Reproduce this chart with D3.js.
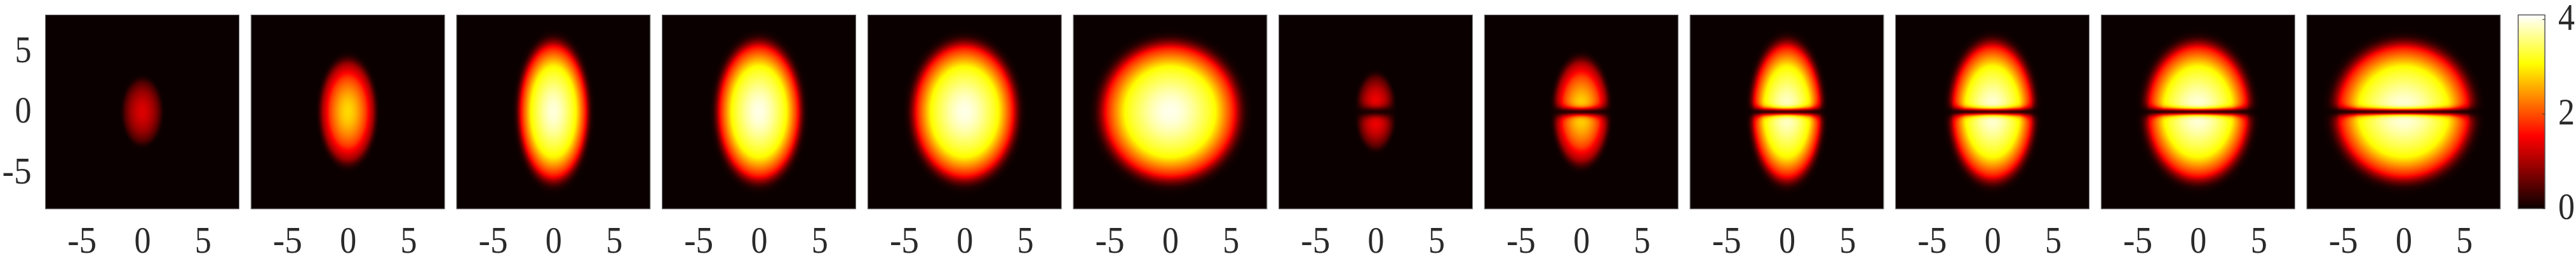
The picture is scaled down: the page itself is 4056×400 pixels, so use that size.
<!DOCTYPE html>
<html>
<head>
<meta charset="utf-8">
<script src="https://cdn.jsdelivr.net/npm/d3@7"></script>
<style>
	html, body { margin: 0; padding: 0; background: #fff; }
	svg { display: block; }
	text { font-family: "Liberation Serif", serif; fill: #2a2a2a; }
</style>
</head>
<body>
<svg id="chart" width="4056" height="400"></svg>
<script>
// per panel readings: peak density, outer half width and
// half height of the blob (axis units), width of the dark line (0 = no line),
// and how much of the soft edge profile the panel uses.
// The full 2D fields are not available, so each panel is rebuilt from these
// readings and the edge profiles below; it is a fit, not the source data.
var peaks       = [1.32, 2.85, 3.95, 4.00, 4.00, 4.02, 1.70, 2.95, 3.95, 4.00, 4.02, 4.02];
var halfWidths  = [1.75, 2.50, 3.15, 3.80, 4.70, 6.25, 1.75, 2.50, 3.20, 3.80, 4.75, 6.25];
var halfHeights = [2.95, 4.70, 6.30, 6.30, 6.25, 6.25, 3.35, 4.80, 6.30, 6.30, 6.25, 6.25];
var lineWidths  = [0, 0, 0, 0, 0, 0, 0.45, 0.32, 0.27, 0.26, 0.25, 0.24];
var softness    = [0.5, 0.4, 0, 0, 0, 0, 0.5, 0.4, 0, 0, 0, 0];

// density / peak against normalised distance from the blob centre
var profileR = [0, 0.1, 0.2, 0.3, 0.4, 0.5, 0.6, 0.7, 0.8, 0.85, 0.9, 0.95, 1, 1.05, 1.1];
var hardN    = [1, 0.99, 0.96, 0.92, 0.87, 0.82, 0.76, 0.62, 0.48, 0.40, 0.24, 0.12, 0.04, 0.01, 0];
var softN    = [1, 0.98, 0.93, 0.85, 0.75, 0.63, 0.50, 0.37, 0.24, 0.17, 0.11, 0.06, 0.02, 0, 0];

var axisTicks = [-5, 0, 5];
var colorbarTicks = [0, 2, 4];
var hotStops = ["#0b0000", "#ff0000", "#ffff00", "#ffffff"];

var panelSize = 305, panelTop = 23.5, panelHeight = 305.5;
var lineFloor = 0.08;

var svg = d3.select("#chart");

var panelX = d3.scaleLinear().domain([0, 11]).range([71.5, 3632]);
var x = d3.scaleLinear().domain([-8, 8]).range([0, panelSize]);
var y = d3.scaleLinear().domain([-8, 8]).range([panelHeight, 0]);
var hardProfile = d3.scaleLinear().domain(profileR).range(hardN).clamp(true);
var softProfile = d3.scaleLinear().domain(profileR).range(softN).clamp(true);

var cmax = 4.09;
var color = d3.scaleLinear()
	.domain([0, cmax * 0.375, cmax * 0.75, cmax])
	.range(hotStops)
	.clamp(true);

function density(i, px, py) {
	var dx = px / halfWidths[i], dy = py / halfHeights[i];
	var r = Math.sqrt(dx * dx + dy * dy);
	var base = softness[i] * softProfile(r) + (1 - softness[i]) * hardProfile(r);
	var n = peaks[i] * base;
	if (lineWidths[i] > 0) {
		// the line gets wider where the density is low
		var w = lineWidths[i] / Math.sqrt(Math.max(base, 0.25));
		var t = Math.tanh(py / w);
		n = n * (lineFloor + (1 - lineFloor) * t * t);
	}
	return n;
}

function fieldImage(i) {
	var w = Math.round(panelSize), h = Math.round(panelHeight);
	var canvas = document.createElement("canvas");
	canvas.width = w;
	canvas.height = h;
	var ctx = canvas.getContext("2d");
	for (var row = 0; row < h; row++) {
		for (var col = 0; col < w; col++) {
			ctx.fillStyle = color(density(i, x.invert(col + 0.5), y.invert(row + 0.5)));
			ctx.fillRect(col, row, 1, 1);
		}
	}
	return canvas.toDataURL();
}

// computer modern digits are narrower than the serif we have
function styleLabels(sel) {
	sel.attr("font-size", 59)
		.attr("fill", null)
		.attr("lengthAdjust", "spacingAndGlyphs")
		.attr("textLength", function (d) { return d < 0 ? 46 : 26; });
}

peaks.forEach(function (p, i) {
	var g = svg.append("g")
		.attr("transform", "translate(" + panelX(i) + "," + panelTop + ")");

	g.append("image")
		.attr("width", panelSize)
		.attr("height", panelHeight)
		.attr("href", fieldImage(i));

	g.append("rect")
		.attr("width", panelSize)
		.attr("height", panelHeight)
		.attr("fill", "none")
		.attr("stroke", "#777");

	var bottom = g.append("g")
		.attr("transform", "translate(0," + panelHeight + ")")
		.call(d3.axisBottom(x).tickValues(axisTicks).tickSize(0).tickPadding(27).tickFormat(function (d) { return String(d); }));
	bottom.select(".domain").remove();
	bottom.selectAll("text").call(styleLabels);

	if (i == 0) {
		var left = g.append("g")
			.call(d3.axisLeft(y).tickValues(axisTicks).tickSize(0).tickPadding(22).tickFormat(function (d) { return String(d); }));
		left.select(".domain").remove();
		left.selectAll("text").call(styleLabels).attr("dy", "0.28em");
	}
});

// colorbar
var barX = 3965, barWidth = 42;
var barScale = d3.scaleLinear().domain([0, cmax]).range([328, 23.5]);

var barCanvas = document.createElement("canvas");
barCanvas.width = 1;
barCanvas.height = 305;
var barCtx = barCanvas.getContext("2d");
for (var row = 0; row < 305; row++) {
	barCtx.fillStyle = color(barScale.invert(row + 23.5));
	barCtx.fillRect(0, row, 1, 1);
}

svg.append("image")
	.attr("x", barX)
	.attr("y", 23.5)
	.attr("width", barWidth)
	.attr("height", 305)
	.attr("preserveAspectRatio", "none")
	.attr("href", barCanvas.toDataURL());

svg.append("rect")
	.attr("x", barX)
	.attr("y", 23.5)
	.attr("width", barWidth)
	.attr("height", 305)
	.attr("fill", "none")
	.attr("stroke", "#555")
	.attr("stroke-width", 1.5);

var barAxis = svg.append("g")
	.attr("transform", "translate(" + (barX + barWidth) + ",0)")
	.call(d3.axisRight(barScale).tickValues(colorbarTicks).tickSize(0).tickPadding(21).tickFormat(d3.format("d")));
barAxis.select(".domain").remove();
barAxis.selectAll("text").call(styleLabels).attr("dy", "0.28em");
barAxis.selectAll(".tick").append("line")
	.attr("x1", -4)
	.attr("x2", 0)
	.attr("stroke", "#333");
</script>
</body>
</html>
